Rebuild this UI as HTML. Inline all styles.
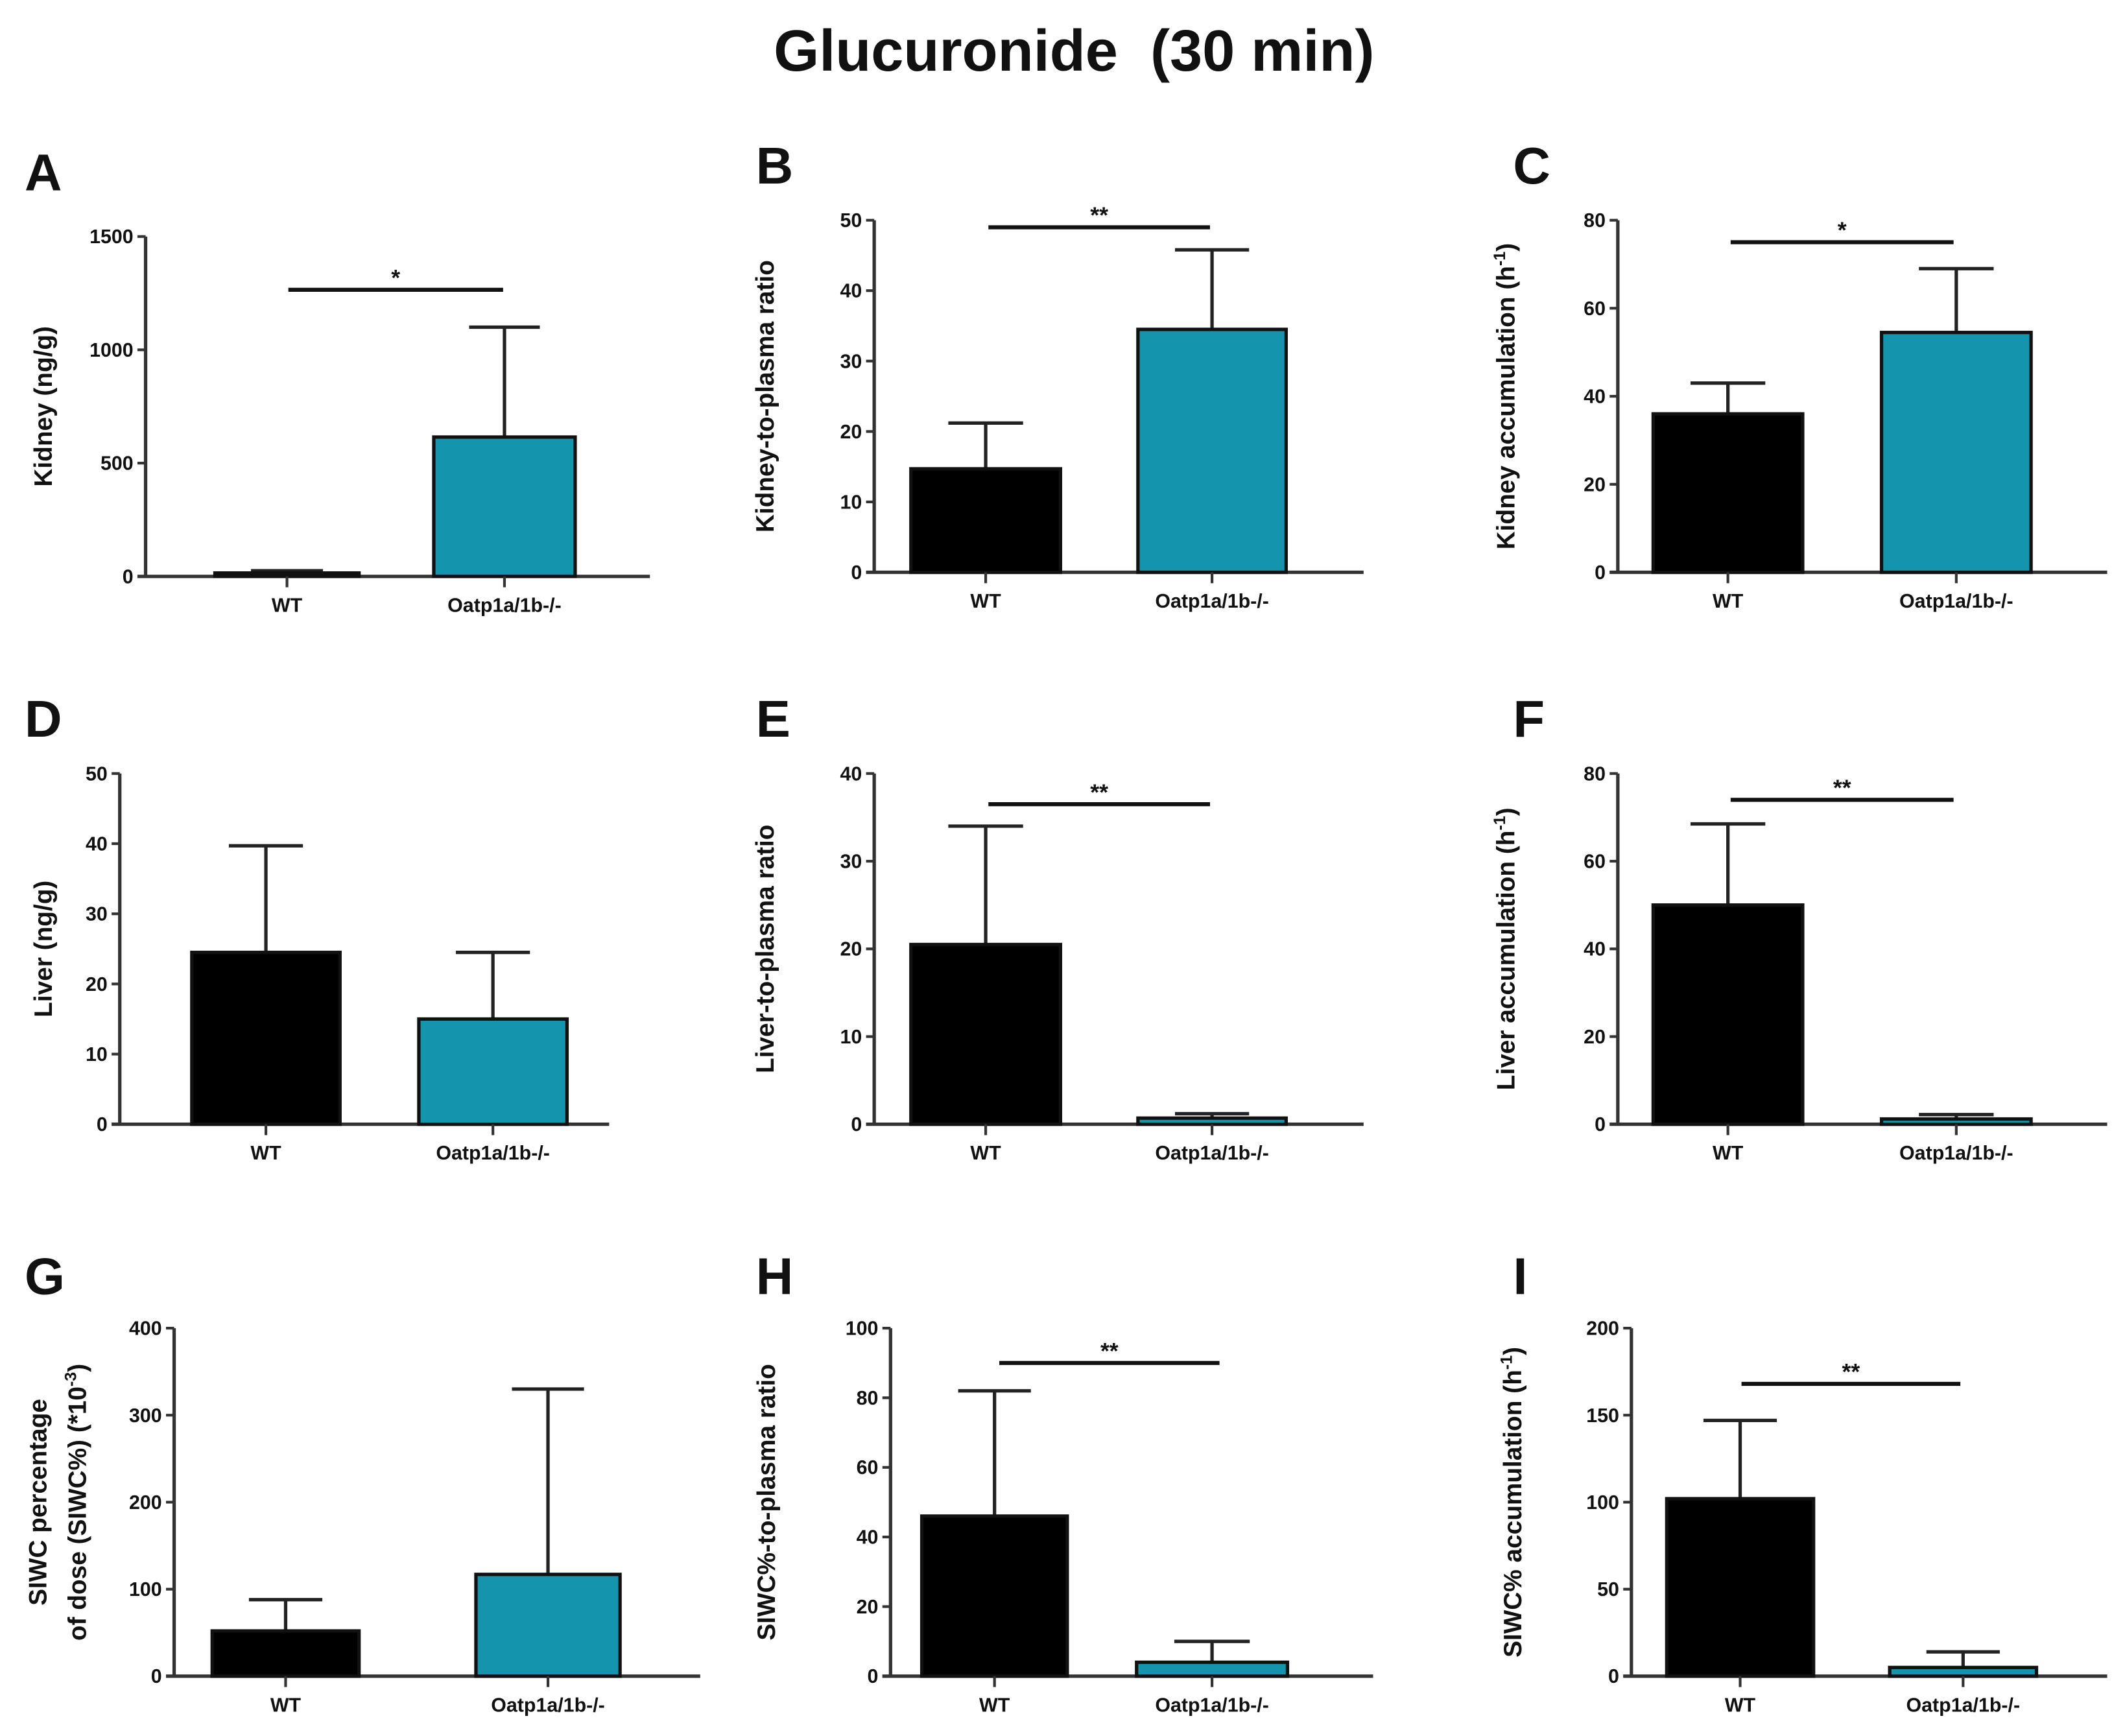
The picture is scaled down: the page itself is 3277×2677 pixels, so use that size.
<!DOCTYPE html>
<html><head><meta charset="utf-8">
<style>
html,body{margin:0;padding:0;background:#fff;}
svg{display:block;}
text{font-family:"Liberation Sans",Arial,sans-serif;font-weight:bold;fill:#111;}
</style></head>
<body>
<svg id="fig" width="3277" height="2677" viewBox="0 0 1563 1277" xmlns="http://www.w3.org/2000/svg">
<rect width="1563" height="1277" fill="#fff"/>
<text x="790" y="52" font-size="43" text-anchor="middle" xml:space="preserve">Glucuronide  (30 min)</text>
</svg>
<script>
const categories = ["WT", "Oatp1a/1b-/-"];
const panelLetters = ["A","B","C","D","E","F","G","H","I"];
const yTitles = ["Kidney (ng/g)","Kidney-to-plasma ratio","Kidney accumulation (h-1)","Liver (ng/g)","Liver-to-plasma ratio","Liver accumulation (h-1)","SIWC percentage|of dose (SIWC%) (*10-3)","SIWC%-to-plasma ratio","SIWC% accumulation (h-1)"];
const yMax = [1500,50,80,50,40,80,400,100,200];
const yStep = [500,10,20,10,10,20,100,20,50];
const wtMean = [15,14.7,36,24.5,20.5,50,52,46,102];
const wtErr = [25,21.2,43,39.7,34,68.5,88,82,147];
const koMean = [615,34.5,54.5,15,0.7,1.2,117,4,5];
const koErr = [1100,45.8,69,24.5,1.2,2.2,330,10,14];
const sigY = [1265,49,75,null,36.5,74,null,90,168];
const sigLabel = ["*","**","*","","**","**","","**","**"];

// layout (non-data)
const L = [
 {ax:107,top:174,bot:424,end:478,b1:[158,264],b2:[319,423],sig:[212,370],lx:18,ly:140,tx:32},
 {ax:643,top:162,bot:421,end:1003,b1:[670,780],b2:[837,946],sig:[727,890],lx:556,ly:135,tx:563},
 {ax:1190,top:162,bot:421,end:1550,b1:[1216,1326],b2:[1384,1494],sig:[1273,1437],lx:1113,ly:135,tx:1108},
 {ax:88,top:569,bot:827,end:448,b1:[141,250],b2:[308,417],sig:null,lx:18,ly:542,tx:32},
 {ax:643,top:569,bot:827,end:1003,b1:[670,780],b2:[837,946],sig:[727,890],lx:556,ly:542,tx:563},
 {ax:1190,top:569,bot:827,end:1550,b1:[1216,1326],b2:[1384,1494],sig:[1273,1437],lx:1113,ly:542,tx:1108},
 {ax:128,top:977,bot:1233,end:515,b1:[156,264],b2:[350,456],sig:null,lx:18,ly:952,tx:28},
 {ax:655,top:977,bot:1233,end:1010,b1:[678,785],b2:[836,947],sig:[735,897],lx:556,ly:952,tx:564},
 {ax:1200,top:977,bot:1233,end:1550,b1:[1226,1334],b2:[1390,1498],sig:[1281,1442],lx:1113,ly:952,tx:1113}
];
const svg = document.getElementById('fig');
const NS = "http://www.w3.org/2000/svg";
function mk(tag, attrs, parent){const e=document.createElementNS(NS,tag);for(const k in attrs)e.setAttribute(k,attrs[k]);(parent||svg).appendChild(e);return e;}
const AX="#333";
for(let p=0;p<9;p++){
  const l=L[p];
  const g=mk('g',{});
  
  
  const y=v=>l.bot-(v/yMax[p])*(l.bot-l.top);
  const lt=mk('text',{x:l.lx,y:l.ly,'font-size':38},g);lt.textContent=panelLetters[p];
  
  const ya=mk('line',{x1:l.ax,y1:l.top,x2:l.ax,y2:l.bot,stroke:AX,'stroke-width':2.5},g);
  
  const xa=mk('line',{x1:l.ax-6,y1:l.bot,x2:l.end,y2:l.bot,stroke:AX,'stroke-width':2.5},g);
  
  for(let v=0;v<=yMax[p]+1e-9;v+=yStep[p]){
    mk('line',{x1:l.ax-6,y1:y(v),x2:l.ax,y2:y(v),stroke:AX,'stroke-width':2},g);
    const t=mk('text',{x:l.ax-9,y:y(v)+5,'font-size':14.5,'text-anchor':'end',fill:'#222'},g);
    t.textContent=v;
    
  }
  const parts=yTitles[p].split('|');
  const cy=(l.top+l.bot)/2;
  parts.forEach((s,i)=>{
    const tx=l.tx+i*29;
    const t=mk('text',{x:tx,y:cy,'font-size':18.5,'text-anchor':'middle',transform:`rotate(-90 ${tx} ${cy})`,dy:6},g);
    
    const m=s.match(/^(.*)(h|10)(-1|-3)(\))$/);
    if(m){t.textContent=m[1]+m[2];const ts=mk('tspan',{dy:-7,'font-size':12},t);ts.textContent=m[3];const t2=mk('tspan',{dy:7},t);t2.textContent=m[4];}
    else t.textContent=s;
  });
  const means=[wtMean[p],koMean[p]],errs=[wtErr[p],koErr[p]],bx=[l.b1,l.b2];
  for(let c=0;c<2;c++){
    const [x0,x1]=bx[c],cx=(x0+x1)/2,w=x1-x0;
    const e=mk('line',{x1:cx,y1:y(means[c]),x2:cx,y2:y(errs[c]),stroke:'#222','stroke-width':2.5},g);
    
    const cap=mk('line',{x1:cx-w*0.25,y1:y(errs[c]),x2:cx+w*0.25,y2:y(errs[c]),stroke:'#222','stroke-width':2.5},g);
    
    const r=mk('rect',{x:x0,y:y(means[c]),width:w,height:l.bot-y(means[c]),fill:c?'#1595ad':'#000',stroke:'#111','stroke-width':2.5},g);
    
    mk('line',{x1:cx,y1:l.bot,x2:cx,y2:l.bot+8,stroke:AX,'stroke-width':2},g);
    const t=mk('text',{x:cx,y:l.bot+26,'font-size':14.5,'text-anchor':'middle',fill:'#222'},g);
    t.textContent=categories[c];
    
  }
  if(sigY[p]!==null){
    const sy=y(sigY[p]);
    const s=mk('line',{x1:l.sig[0],y1:sy,x2:l.sig[1],y2:sy,stroke:'#111','stroke-width':3},g);
    
    const st=mk('text',{x:(l.sig[0]+l.sig[1])/2,y:sy-3,'font-size':17,'text-anchor':'middle'},g);
    st.textContent=sigLabel[p];
    
  }
}
</script>
</body></html>
